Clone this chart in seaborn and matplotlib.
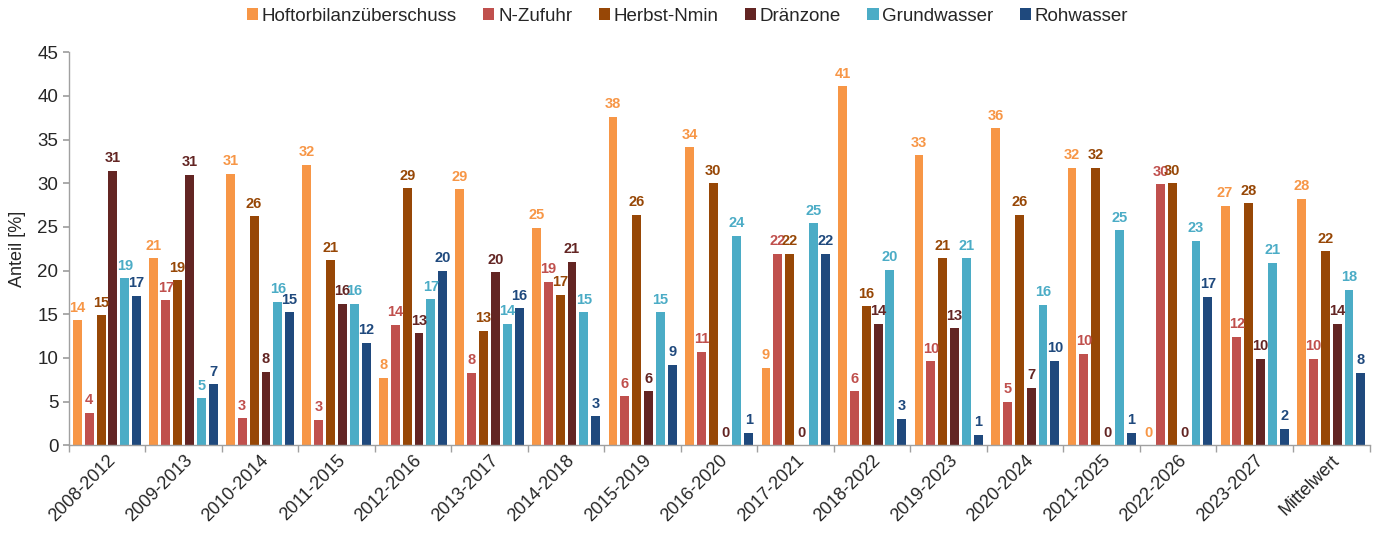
import matplotlib
matplotlib.use("Agg")
import matplotlib.pyplot as plt
import seaborn as sns
import pandas as pd
import numpy as np
from matplotlib.ticker import FixedLocator

categories = ["2008-2012", "2009-2013", "2010-2014", "2011-2015", "2012-2016",
              "2013-2017", "2014-2018", "2015-2019", "2016-2020", "2017-2021",
              "2018-2022", "2019-2023", "2020-2024", "2021-2025", "2022-2026",
              "2023-2027", "Mittelwert"]

series_names = ["Hoftorbilanzüberschuss", "N-Zufuhr", "Herbst-Nmin", "Dränzone",
                "Grundwasser", "Rohwasser"]

hoftor = [14.3, 21.4, 31.1, 32.1, 7.7, 29.3, 24.9, 37.6, 34.1, 8.9, 41.1, 33.2, 36.3, 31.8, 0.0, 27.4, 28.2]
nzufuhr = [3.7, 16.6, 3.1, 2.9, 13.8, 8.3, 18.7, 5.6, 10.7, 21.9, 6.2, 9.6, 5.0, 10.5, 29.9, 12.4, 9.9]
herbst = [14.9, 18.9, 26.2, 21.2, 29.4, 13.1, 17.2, 26.4, 30.0, 21.9, 15.9, 21.4, 26.4, 31.8, 30.0, 27.7, 22.2]
draen = [31.4, 31.0, 8.4, 16.2, 12.8, 19.8, 21.0, 6.2, 0.0, 0.0, 13.9, 13.4, 6.6, 0.0, 0.0, 9.9, 13.9]
grund = [19.1, 5.4, 16.4, 16.2, 16.7, 13.9, 15.2, 15.2, 24.0, 25.4, 20.1, 21.4, 16.1, 24.6, 23.4, 20.9, 17.8]
roh = [17.1, 7.0, 15.2, 11.7, 20.0, 15.7, 3.3, 9.2, 1.4, 21.9, 3.0, 1.2, 9.7, 1.4, 17.0, 1.9, 8.3]

colors = ["#F79646", "#C0504D", "#974706", "#632523", "#4BACC6", "#1F497D"]

values = [hoftor, nzufuhr, herbst, draen, grund, roh]
rows = []
for name, vals in zip(series_names, values):
    for cat, v in zip(categories, vals):
        rows.append({"Zeitraum": cat, "Serie": name, "Anteil": v})
df = pd.DataFrame(rows)

sns.set_theme(style="ticks")
plt.rcParams['font.family'] = ['Liberation Sans', 'DejaVu Sans']

fig = plt.figure(figsize=(13.75, 5.39), dpi=100)
ax = fig.add_axes([0.050, 0.174, 0.946, 0.729])

sns.barplot(data=df, x="Zeitraum", y="Anteil", hue="Serie", hue_order=series_names,
            order=categories, palette=colors, width=0.93, gap=0.25,
            saturation=1, ax=ax, legend=True, edgecolor="none")

for cont, col in zip(ax.containers, colors):
    labels = [f"{int(round(b.get_height()))}" for b in cont]
    ax.bar_label(cont, labels=labels, color=col, fontsize=10.5, fontweight="bold", padding=4)

ax.set_ylim(0, 45)
ax.set_xlim(-0.5, len(categories) - 0.5)
ax.set_yticks(np.arange(0, 46, 5))
ax.set_ylabel("Anteil [%]", fontsize=13, labelpad=8)
ax.set_xlabel("")

ax.tick_params(axis="x", which="major", length=0, labelsize=13, pad=5)
ax.xaxis.set_minor_locator(FixedLocator(np.arange(-0.5, len(categories), 1.0)))
ax.tick_params(axis="x", which="minor", length=5, color="#A0A0A0", width=1)
plt.setp(ax.get_xticklabels(), rotation=45, ha="right", rotation_mode="anchor")
ax.tick_params(axis="y", length=4, color="#A0A0A0", labelsize=13.5)

for s in ["top", "right"]:
    ax.spines[s].set_visible(False)
for s in ["left", "bottom"]:
    ax.spines[s].set_color("#A0A0A0")
    ax.spines[s].set_linewidth(1)

handles, labels = ax.get_legend_handles_labels()
ax.get_legend().remove()
fig.legend(handles, labels, loc="center", bbox_to_anchor=(0.5, 0.97), ncol=6, frameon=False,
           fontsize=13.5, handlelength=0.6, handleheight=0.6, handletextpad=0.2,
           columnspacing=1.4, borderaxespad=0)

fig.savefig("out.png", dpi=100)
